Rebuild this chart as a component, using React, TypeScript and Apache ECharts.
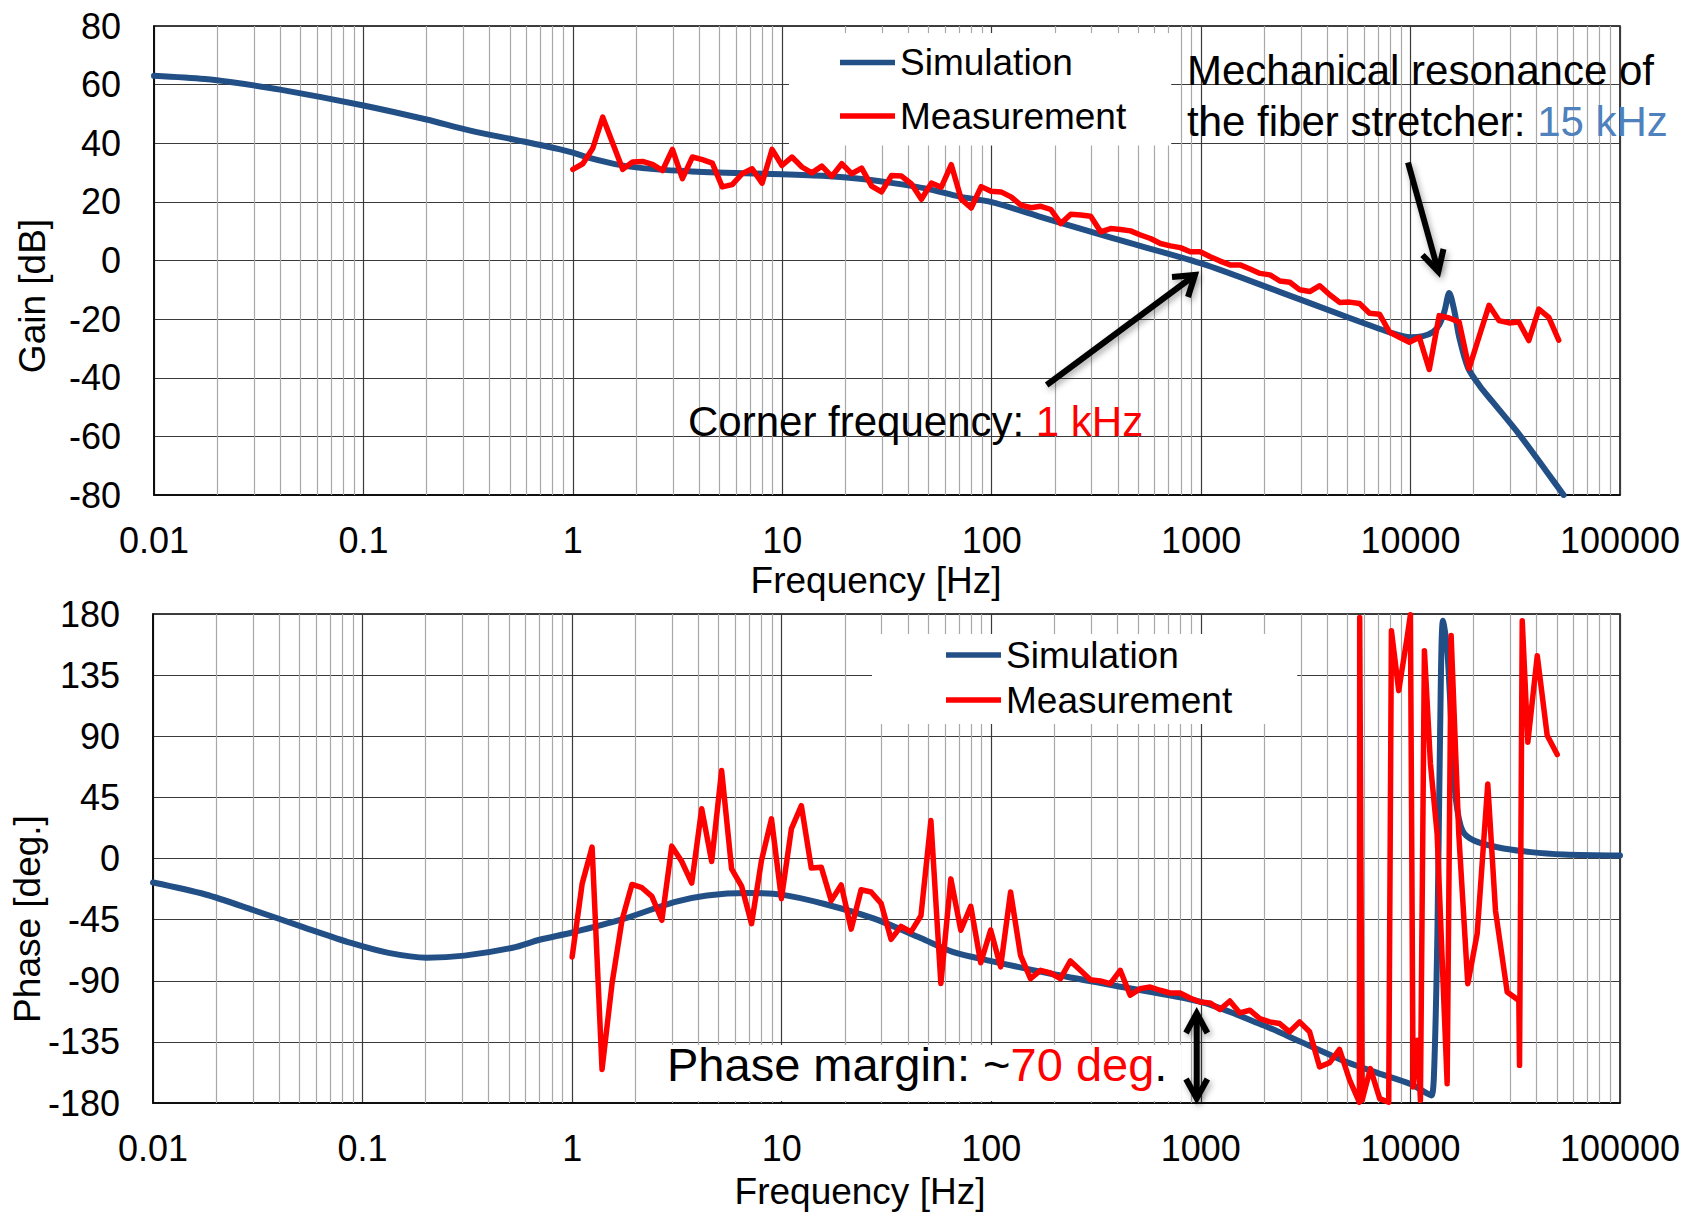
import React, { useEffect, useRef } from "react";
import * as echarts from "echarts";

const FONT = '"Liberation Sans", Arial, Helvetica, sans-serif';
const SIM_COLOR = "#224F86";
const MEAS_COLOR = "#FF0000";
const GRID_COLOR = "#3a3a3a";
const MINOR_COLOR = "#a8a8a8";

const legendNames = ["Simulation", "Measurement"];
const xDecades = [0.01, 0.1, 1, 10, 100, 1000, 10000];
const minorSteps = [2, 3, 4, 5, 6, 7, 8, 9];

// ---- measured sweep (Hz) ----
const measFreq = [
  1, 1.116, 1.245, 1.389, 1.55, 1.729, 1.929, 2.152, 2.401, 2.679,
  2.989, 3.335, 3.721, 4.152, 4.632, 5.168, 5.766, 6.433, 7.178, 8.008,
  8.935, 9.967, 11.12, 12.41, 13.84, 15.45, 17.23, 19.23, 21.45, 23.93,
  26.7, 29.79, 33.24, 37.09, 41.38, 46.17, 51.51, 57.47, 64.12, 71.54,
  79.8, 89.04, 99.33, 110.8, 123.6, 137.9, 153.9, 171.7, 191.6, 213.8,
  238.5, 266.1, 296.9, 331.3, 369.6, 412.3, 460.1, 513.3, 572.7, 639,
  712.9, 795.4, 887.4, 990, 1105, 1232, 1375, 1534, 1712, 1910,
  2131, 2377, 2652, 2959, 3302, 3684, 4110, 4586, 5116, 5708,
  6368, 7105, 7927, 8844, 9867, 11010, 12280, 13700, 15290, 17060,
  19030, 21230, 23690, 26430, 29490, 32900, 36710, 40960, 45700, 50990,
];

const measGainDb = [
  31.1, 33.0, 38.3, 48.9, 40.0, 31.1, 33.6, 33.8, 32.8, 30.7,
  37.9, 27.9, 35.3, 34.4, 33.2, 25.1, 25.9, 29.6, 31.3, 26.4,
  37.9, 32.4, 35.3, 31.9, 29.9, 32.2, 28.7, 33.0, 29.6, 31.5,
  25.4, 23.4, 29.0, 28.8, 26.1, 20.9, 26.4, 25.0, 32.7, 20.9,
  17.9, 25.2, 23.6, 23.4, 21.7, 18.9, 18.0, 18.5, 17.4, 12.6,
  15.8, 15.5, 15.1, 9.8, 10.9, 10.6, 10.1, 8.7, 7.5, 5.8,
  5.0, 4.4, 3.0, 3.0, 1.3, -0.2, -1.5, -1.5, -2.9, -4.4,
  -4.9, -7.0, -7.4, -10.0, -10.6, -8.6, -11.7, -14.3, -14.2, -14.7,
  -18.0, -18.3, -24.4, -26.2, -27.9, -26.2, -37.2, -18.8, -19.6, -21.0,
  -36.8, -26.0, -15.3, -20.5, -21.3, -21.0, -27.3, -16.6, -19.4, -27.2,
];

// measured phase on the sweep points up to ~5.7 kHz
const measPhaseLowDeg = [
  -72.5, -18.6, 8.4, -155.3, -92, -45.5, -19.1, -21.5, -27.9, -45.5,
  9.1, -2.2, -18.1, 36.6, -2.2, 64.8, -7.6, -20.3, -48.0, -1.4,
  29.2, -29.6, 21.8, 38.9, -7.0, -6.4, -31.0, -19.5, -52.0, -23.0,
  -24.7, -33.0, -59.5, -50.0, -54.0, -42.2, 27.9, -92.0, -15.0, -52.8,
  -35.2, -76.8, -52.6, -79.8, -24.7, -71.3, -88.4, -82.3, -84.3, -88.4,
  -75.4, -82.3, -89.2, -90.1, -92.1, -82.3, -100.7, -95.8, -94.6, -97.0,
  -99.0, -99.0, -102.7, -105.6, -106.3, -111.2, -104.9, -113.7, -111.7, -117.8,
  -120.3, -121.5, -127.6, -120.3, -127.6, -153.4, -150.4, -140.6, -162.7, -179.5,
];
// measured phase above ~5.7 kHz (wrapping region)
const measPhaseHighFreq = [
  5727, 5880, 6442, 7136, 7878, 8114, 8794, 9643, 10000, 10300,
  10835, 11160, 11660, 12460, 13410, 14970, 15640, 17010, 18780, 20820,
  23390, 25460, 28960, 32910, 33160, 34160, 36330, 40290, 44950, 50170,
];
const measPhaseHighDeg = [
  177.5, -178, -154.7, -176.8, -179.5, 167.7, 123.6, 162.8, 179.5, -168.2,
  -133.9, -178, 153, 69.6, 18.1, -165.8, 164.1, 18.1, -92.2, -55.4,
  54.9, -38.3, -98.3, -104.5, -152.3, 175.1, 85.6, 149.3, 90.5, 76.5,
];

// ---- simulation ----
const simGainFreq = [
  0.01, 0.0175, 0.0236, 0.04, 0.1, 0.2, 0.32, 0.545, 0.86, 1,
  1.2, 1.5, 1.8, 2.6, 3.7, 5.4, 10, 16.2, 23.4, 33.8,
  48.8, 70.2, 100, 182, 378, 1000, 2370, 4900, 7900, 10000,
  11450, 12800, 13700, 14500, 15300, 16200, 17100, 18800, 21400, 24500,
  33000, 44400, 53800,
];
const simGainDb = [
  63.0, 61.9, 60.8, 58.3, 52.9, 48.1, 44.4, 41.0, 38.0, 36.8,
  35.0, 33.3, 32.2, 31.0, 30.4, 29.9, 29.4, 28.8, 27.9, 26.4,
  24.5, 21.8, 19.9, 14.3, 7.6, -1.0, -10.7, -19.1, -24.4, -26.2,
  -25.8, -24.4, -21.9, -17.4, -11.1, -17.4, -26.4, -36.6, -42.8, -48.0,
  -59.3, -71.8, -80.0,
];

const simPhaseFreq = [
  0.01, 0.0178, 0.0303, 0.0516, 0.088, 0.133, 0.202, 0.306, 0.52, 0.7,
  1, 1.77, 3.07, 4.4, 6.9, 10, 16, 27.6, 46, 65.4,
  100, 185, 385, 1000, 2000, 3000, 5000, 7000, 10000, 12000,
  12600, 12960, 13450, 13850, 14300, 15000, 15900, 16500, 17700, 20100,
  26000, 37600, 54300, 100000,
];
const simPhaseDeg = [
  -17.7, -26.5, -38.1, -50.3, -62.2, -69.5, -73.0, -71.5, -65.7, -59.8,
  -54.5, -44.3, -32.1, -27.2, -25.4, -26.6, -33.5, -44.3, -58.5, -68.7,
  -75.5, -84.3, -93.5, -105.6, -123, -135, -150, -158, -166, -173,
  -174.5, -158.4, -55.4, 91.7, 175.1, 153, 79.5, 42.7, 20.6, 13.2,
  8.3, 4.7, 3.0, 2.2,
];

function pairs(xs: number[], ys: number[]) {
  return xs.map((x, i) => [x, ys[i]]);
}
function fmtFreq(v: number) {
  return String(parseFloat(Number(v).toPrecision(6)));
}
const font = (px: number) => `${px}px ${FONT}`;

export default function App() {
  const ref = useRef<HTMLDivElement>(null);

  useEffect(() => {
    if (!ref.current) return;
    const chart = echarts.init(ref.current, null, { renderer: "svg" });

    const minorLines = xDecades.flatMap((d) =>
      minorSteps.map((m) => ({ xAxis: parseFloat((d * m).toPrecision(6)) }))
    );

    const xAxisCommon: any = {
      type: "log",
      logBase: 10,
      min: 0.01,
      max: 100000,
      axisLine: { show: true, onZero: false, lineStyle: { color: "#000", width: 1.5 } },
      axisTick: { show: false },
      splitLine: { show: true, lineStyle: { color: GRID_COLOR, width: 1.2 } },
      axisLabel: { show: true, fontSize: 36, fontFamily: FONT, color: "#000", margin: 27, formatter: fmtFreq },
    };
    const yAxisCommon: any = {
      type: "value",
      axisLine: { show: true, onZero: false, lineStyle: { color: "#000", width: 1.5 } },
      axisTick: { show: false },
      splitLine: { show: true, lineStyle: { color: GRID_COLOR, width: 1.2 } },
      axisLabel: { fontSize: 36, fontFamily: FONT, color: "#000", margin: 33 },
    };

    const minorSeries = (idx: number) => ({
      type: "line",
      xAxisIndex: idx,
      yAxisIndex: idx,
      data: [[1, 0]],
      symbol: "none",
      silent: true,
      z: 1,
      lineStyle: { opacity: 0 },
      markLine: {
        silent: true,
        z: 1,
        symbol: ["none", "none"],
        label: { show: false },
        emphasis: { disabled: true },
        lineStyle: { color: MINOR_COLOR, width: 1.2, type: "solid" },
        data: minorLines,
      },
    });

    const lineSeries = (name: string, idx: number, data: number[][], color: string, width: number, z: number, smooth: number | boolean) => ({
      name,
      type: "line",
      xAxisIndex: idx,
      yAxisIndex: idx,
      data,
      symbol: "none",
      showSymbol: false,
      smooth,
      color,
      itemStyle: { color },
      lineStyle: { color, width, cap: "round", join: "round" },
      emphasis: { disabled: true },
      z,
      clip: true,
    });

    const legendCommon = {
      data: legendNames,
      orient: "vertical",
      icon: "rect",
      itemWidth: 55,
      itemHeight: 5.5,
      backgroundColor: "#fff",
      selectedMode: false,
      itemStyle: { borderWidth: 0 },
      textStyle: { fontSize: 37, fontFamily: FONT, color: "#000" },
      z: 10,
    };

    const shadow = {
      shadowBlur: 6,
      shadowColor: "rgba(0,0,0,0.35)",
      shadowOffsetX: 2,
      shadowOffsetY: 3,
    };
    const arrowStyle: any = {
      stroke: "#000",
      lineWidth: 6,
      fill: null,
      lineCap: "butt",
      lineJoin: "miter",
      ...shadow,
    };

    const phaseMeas = pairs(measFreq.slice(0, measPhaseLowDeg.length), measPhaseLowDeg).concat(
      pairs(measPhaseHighFreq, measPhaseHighDeg)
    );

    const option: any = {
      animation: false,
      backgroundColor: "#fff",
      grid: [
        { left: 154, top: 26, width: 1466, height: 469, show: true, borderColor: "#000", borderWidth: 1.5, backgroundColor: "transparent", containLabel: false, outerBoundsMode: "none" },
        { left: 153, top: 614, width: 1467, height: 489, show: true, borderColor: "#000", borderWidth: 1.5, backgroundColor: "transparent", containLabel: false, outerBoundsMode: "none" },
      ],
      xAxis: [
        { ...xAxisCommon, gridIndex: 0 },
        { ...xAxisCommon, gridIndex: 1 },
      ],
      yAxis: [
        { ...yAxisCommon, gridIndex: 0, min: -80, max: 80, interval: 20 },
        { ...yAxisCommon, gridIndex: 1, min: -180, max: 180, interval: 45 },
      ],
      legend: [
        { ...legendCommon, left: 789, top: 33, padding: [11, 45, 11, 51], itemGap: 16.5 },
        { ...legendCommon, left: 872, top: 634, padding: [2.5, 65, 5.5, 74], itemGap: 8 },
      ],
      series: [
        minorSeries(0),
        minorSeries(1),
        lineSeries("Simulation", 0, pairs(simGainFreq, simGainDb), SIM_COLOR, 6, 3, 0.3),
        lineSeries("Measurement", 0, pairs(measFreq, measGainDb), MEAS_COLOR, 5.5, 4, false),
        lineSeries("Simulation", 1, pairs(simPhaseFreq, simPhaseDeg), SIM_COLOR, 6, 3, 0.3),
        lineSeries("Measurement", 1, phaseMeas, MEAS_COLOR, 5.5, 4, false),
      ],
      graphic: [
        { type: "rect", silent: true, z: 50, shape: { x: 663, y: 1045, width: 518, height: 56 }, style: { fill: "#fff" } },
        {
          type: "text", z: 60, x: 1187, y: 70,
          style: { text: "Mechanical resonance of", font: font(42), fill: "#000", align: "left", verticalAlign: "middle" },
        },
        {
          type: "text", z: 60, x: 1187, y: 121.5,
          style: {
            text: "{a|the fiber stretcher: }{b|15 kHz}", font: font(42), fill: "#000", align: "left", verticalAlign: "middle",
            rich: { a: { font: font(42), fill: "#000" }, b: { font: font(42), fill: "#4F81BD" } },
          },
        },
        {
          type: "text", z: 60, x: 688, y: 421.5,
          style: {
            text: "{a|Corner frequency: }{b|1 kHz}", font: font(42), fill: "#000", align: "left", verticalAlign: "middle",
            rich: { a: { font: font(42), fill: "#000" }, b: { font: font(42), fill: "#FF0000" } },
          },
        },
        {
          type: "text", z: 60, x: 667, y: 1064,
          style: {
            text: "{a|Phase margin: ~}{b|70 deg}{a|.}", font: font(47), fill: "#000", align: "left", verticalAlign: "middle",
            rich: { a: { font: font(47), fill: "#000" }, b: { font: font(47), fill: "#FF0000" } },
          },
        },
        { type: "text", z: 60, x: 876, y: 580, style: { text: "Frequency [Hz]", font: font(37), fill: "#000", align: "center", verticalAlign: "middle" } },
        { type: "text", z: 60, x: 860, y: 1191, style: { text: "Frequency [Hz]", font: font(37), fill: "#000", align: "center", verticalAlign: "middle" } },
        { type: "text", z: 60, x: 32, y: 296, rotation: Math.PI / 2, style: { text: "Gain [dB]", font: font(37), fill: "#000", align: "center", verticalAlign: "middle" } },
        { type: "text", z: 60, x: 27, y: 919, rotation: Math.PI / 2, style: { text: "Phase [deg.]", font: font(37), fill: "#000", align: "center", verticalAlign: "middle" } },
        // corner frequency arrow
        { type: "line", z: 60, shape: { x1: 1046.7, y1: 385, x2: 1193, y2: 276.5 }, style: arrowStyle },
        { type: "polyline", z: 60, shape: { points: [[1172, 277], [1195, 275], [1188, 297]] }, style: arrowStyle },
        // resonance arrow
        { type: "line", z: 60, shape: { x1: 1408, y1: 162.5, x2: 1437.5, y2: 268.5 }, style: arrowStyle },
        { type: "polyline", z: 60, shape: { points: [[1422.5, 255], [1438.3, 271.7], [1443.5, 249]] }, style: arrowStyle },
        // phase margin double arrow
        { type: "rect", z: 60, shape: { x: 1193.7, y: 1016, width: 6, height: 80 }, style: { fill: "#000", ...shadow } },
        { type: "polyline", z: 60, shape: { points: [[1186, 1033], [1196.7, 1013.3], [1207.4, 1033]] }, style: arrowStyle },
        { type: "polyline", z: 60, shape: { points: [[1186, 1079], [1196.7, 1098.3], [1207.4, 1079]] }, style: arrowStyle },
      ],
    };

    chart.setOption(option);
    return () => chart.dispose();
  }, []);

  return (
    <div
      ref={ref}
      style={{ position: "absolute", left: 0, top: 0, width: 1690, height: 1212, background: "#fff" }}
    />
  );
}
